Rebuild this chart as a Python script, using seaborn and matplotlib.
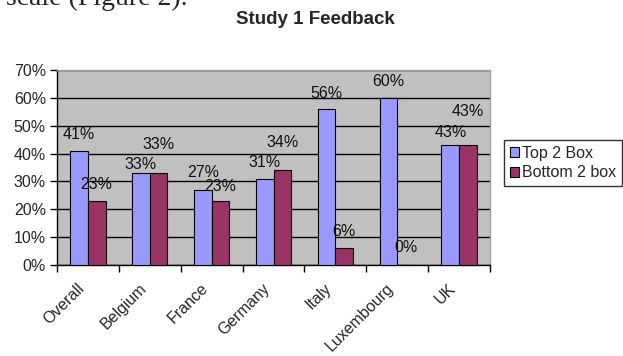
import pandas as pd
import matplotlib
matplotlib.use("Agg")
import matplotlib.pyplot as plt
import matplotlib.transforms as mtransforms
from matplotlib.patches import Patch
import seaborn as sns

# chart data
countries = ["Overall", "Belgium", "France", "Germany", "Italy", "Luxembourg", "UK"]
top_2_box = [41, 33, 27, 31, 56, 60, 43]
bottom_2_box = [23, 33, 23, 34, 6, 0, 43]
series_names = ["Top 2 Box", "Bottom 2 box"]
y_ticks = [0, 10, 20, 30, 40, 50, 60, 70]

# how far (px) above each bar top the value label sits, like Excel staggered them
top_label_lift = [16, 9, 17, 16, 16, 16, 13]
bottom_label_lift = [16, 29, 14, 28, 17, 17, 34]

colors = ["#9999FF", "#993366"]

df = pd.DataFrame({
    "country": countries * 2,
    "series": [series_names[0]] * len(countries) + [series_names[1]] * len(countries),
    "value": top_2_box + bottom_2_box,
})

sns.set_theme(style="white")
plt.rcParams["font.family"] = ["Liberation Sans", "DejaVu Sans"]

fig = plt.figure(figsize=(6.23, 3.56), dpi=100)
ax = fig.add_axes([57 / 623, 1 - 265 / 356, 433 / 623, 195 / 356])
ax.set_facecolor("#C0C0C0")

sns.barplot(data=df, x="country", y="value", hue="series", order=countries,
            hue_order=series_names, palette=colors, width=0.57, gap=0,
            edgecolor="black", linewidth=0.8, saturation=1, legend=False,
            ax=ax, zorder=3)

ax.set_ylim(0, 70)
ax.set_xlim(-0.5, len(countries) - 0.5)
ax.set_yticks(y_ticks)
ax.set_yticklabels([f"{t}%" for t in y_ticks], fontsize=11.5)
ax.yaxis.grid(True, color="black", linewidth=1, zorder=0)
ax.set_axisbelow(True)

# ticks at category boundaries, labels at centres
ax.set_xticks([i - 0.5 for i in range(len(countries) + 1)])
ax.set_xticklabels([])
ax.set_xticks(range(len(countries)), minor=True)
ax.set_xticklabels(countries, minor=True, rotation=45, ha="right", va="center",
                   rotation_mode="anchor", fontsize=11.5)
ax.tick_params(axis="x", which="minor", length=0, pad=15)
ax.tick_params(axis="x", which="major", direction="out", length=5, width=1,
               color="black", bottom=True)
ax.tick_params(axis="y", direction="out", length=5, width=1, color="black",
               left=True, pad=3)
shift = mtransforms.ScaledTranslation(-6 / 100, 0, fig.dpi_scale_trans)
for lbl in ax.get_xticklabels(minor=True):
    lbl.set_transform(lbl.get_transform() + shift)

ax.set_xlabel("")
ax.set_ylabel("")

for side in ["left", "bottom"]:
    ax.spines[side].set_color("black")
    ax.spines[side].set_linewidth(1)
for side in ["top", "right"]:
    ax.spines[side].set_color("#A0A0A0")
    ax.spines[side].set_linewidth(1)

# value labels
for container, lifts in zip(ax.containers, [top_label_lift, bottom_label_lift]):
    for bar, lift in zip(container, lifts):
        h = bar.get_height()
        ax.annotate(f"{h:.0f}%", (bar.get_x() + bar.get_width() / 2, h),
                    xytext=(0, lift), textcoords="offset pixels",
                    ha="center", va="center", fontsize=11.5, color="#111111",
                    zorder=5, annotation_clip=False)

handles = [Patch(facecolor=c, edgecolor="black", linewidth=0.8) for c in colors]
fig.legend(handles, series_names, loc="upper left",
           bbox_to_anchor=(504 / 623, 1 - 140 / 356), fontsize=11.5,
           frameon=True, fancybox=False, edgecolor="black", borderaxespad=0,
           handlelength=0.6, handleheight=0.6, handletextpad=0.2,
           labelspacing=0.3, borderpad=0.35)

fig.suptitle("Study 1 Feedback", x=315 / 623, y=1 - 20 / 356, va="center",
             fontsize=13.5, fontweight="bold")

# clipped line of the surrounding document at the very top
fig.text(6 / 623, 1 - 5 / 356, "scale (Figure 2).", va="baseline", ha="left",
         fontsize=20, family=["Liberation Serif", "DejaVu Serif"])

fig.savefig("out.png", dpi=100)
